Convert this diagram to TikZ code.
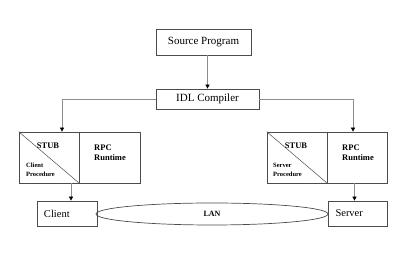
\documentclass[tikz,border=0pt]{standalone}
\usepackage{fontspec}
\setmainfont{Liberation Serif}
\usepackage{tikz}
\usetikzlibrary{arrows.meta, positioning, shapes.geometric}

\begin{document}
\begin{tikzpicture}[x=1pt, y=-1pt, >={Triangle[width=4pt,length=4pt,color=black]},
		box/.style={rectangle, draw=black!70, line width=0.7pt, inner sep=0pt, font=\fontsize{11}{13}\selectfont},
		cell/.style={rectangle, draw=black!70, line width=0.7pt, inner sep=0pt, minimum height=51pt},
		endbox/.style={rectangle, draw=black!70, line width=0.7pt, inner ysep=0pt, minimum height=25pt, align=left, font=\fontsize{10.5}{12}\selectfont},
		tag/.style={inner sep=0pt, font=\bfseries\fontsize{8.5}{10}\selectfont},
		small/.style={inner sep=0pt, align=left, font=\bfseries\fontsize{6.5}{9}\selectfont},
		link/.style={draw=black!45, line width=0.7pt}]
		
		\useasboundingbox (0,0) rectangle (400,261);
		
		% Compilador
		\node[box, minimum width=95pt, minimum height=26pt] (src) at (203.5, 42) {Source Program};
		\node[box, minimum width=103pt, minimum height=20pt] (idl) at (207.5, 99) {IDL Compiler};
		
		% Lado do cliente
		\node[cell, minimum width=60pt] (cliStub) at (49, 157.5) {};
		\node[cell, minimum width=61pt] (cliRun) at (109.5, 157.5) {};
		\draw[black!70, line width=0.5pt] (cliStub.north west) -- (cliStub.south east);
		\node[tag] (cliStubTxt) at (48, 146) {STUB};
		\node[small, anchor=west] (cliProc) at (26, 170) {Client\\Procedure};
		\node[tag, align=left, anchor=west] (cliRunTxt) at (94, 153) {RPC\\Runtime};
		
		% Lado do servidor
		\node[cell, minimum width=60pt] (srvStub) at (297, 157.5) {};
		\node[cell, minimum width=60pt] (srvRun) at (357, 157.5) {};
		\draw[black!70, line width=0.5pt] (srvStub.north west) -- (srvStub.south east);
		\node[tag] (srvStubTxt) at (296, 146) {STUB};
		\node[small, anchor=west] (srvProc) at (273, 170) {Server\\Procedure};
		\node[tag, align=left, anchor=west] (srvRunTxt) at (342, 153) {RPC\\Runtime};
		
		% Rede
		\node[endbox, text width=46pt, inner xsep=7pt] (client) at (67, 213.5) {Client};
		\node[endbox, text width=44pt, inner xsep=7.5pt] (server) at (357.5, 213.5) {Server};
		\node[ellipse, draw=black!70, line width=0.7pt, minimum width=232pt, minimum height=22pt, inner sep=0pt, font=\bfseries\fontsize{8}{10}\selectfont] (lan) at (212, 214) {LAN};
		
		% Arestas
		\draw[link, ->] (src.south -| idl.north) -- (idl.north);
		\draw[link, ->] (idl.west) -| ([xshift=13pt]cliStub.north);
		\draw[link, ->] (idl.east) -| ([xshift=-4pt]srvRun.north);
		\draw[link, ->] ([xshift=4pt]client.north |- cliStub.south) -- ([xshift=4pt]client.north);
		\draw[link, ->] ([xshift=-3pt]server.north |- srvRun.south) -- ([xshift=-3pt]server.north);
		
	\end{tikzpicture}
\end{document}
